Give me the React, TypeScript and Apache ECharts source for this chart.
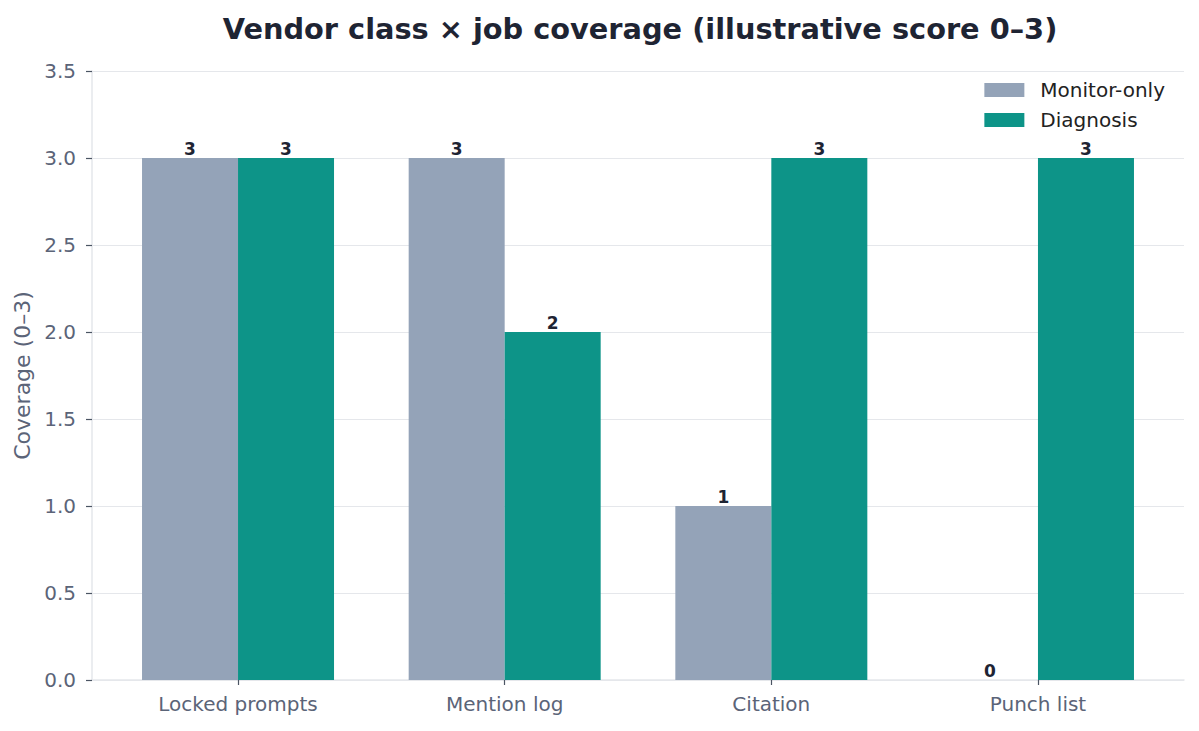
import { useEffect, useRef } from "react";
import * as echarts from "echarts";

const categories = ["Locked prompts", "Mention log", "Citation", "Punch list"];
const monitorOnly = [3, 3, 1, 0];
const diagnosis = [3, 2, 3, 3];
const yTicks = [0, 0.5, 1, 1.5, 2, 2.5, 3, 3.5];

const FONT = "DejaVu Sans";
const MUTED = "#5b6478";
const DARK = "#1e2433";
const GRID = "#e5e7eb";

const App = () => {
  const chartRef = useRef<HTMLDivElement>(null);

  useEffect(() => {
    if (!chartRef.current) return;
    const chart = echarts.init(chartRef.current, undefined, { renderer: "svg" });
    const yMax = yTicks[yTicks.length - 1];

    const barLabel = {
      show: true,
      position: "top",
      distance: 1,
      fontFamily: FONT,
      fontSize: 17,
      fontWeight: "bold",
      color: DARK,
    };

    chart.setOption({
      animation: false,
      textStyle: { fontFamily: FONT },
      title: {
        text: "Vendor class × job coverage (illustrative score 0–3)",
        left: 635,
        textAlign: "center",
        top: 9,
        textStyle: { fontFamily: FONT, fontSize: 28.8, fontWeight: "bold", color: DARK },
      },
      legend: {
        orient: "vertical",
        right: 29,
        top: 75,
        itemWidth: 40,
        itemHeight: 14,
        itemGap: 10,
        icon: "rect",
        textStyle: { fontFamily: FONT, fontSize: 20, color: "#222222", padding: [0, 0, 0, 11] },
        data: ["Monitor-only", "Diagnosis"],
      },
      grid: [
        // bars: one category = 266.7px, centred like the reference
        { left: 104.7, right: 27.7, top: 71, bottom: 51 },
        // frame: gridlines, y ticks and spines span the full plot area
        { left: 92, right: 15, top: 71, bottom: 51 },
      ],
      xAxis: [
        {
          type: "category",
          gridIndex: 0,
          data: categories,
          axisLine: { show: false },
          axisTick: { show: true, alignWithLabel: true, length: 5, lineStyle: { color: "#4b5563", width: 1.2 } },
          axisLabel: { fontFamily: FONT, fontSize: 20, color: MUTED, margin: 14 },
        },
        {
          type: "value",
          gridIndex: 1,
          min: 0,
          max: 1,
          axisLine: { show: true, onZero: false, lineStyle: { color: GRID, width: 1.5 } },
          axisTick: { show: false },
          axisLabel: { show: false },
          splitLine: { show: false },
        },
      ],
      yAxis: [
        {
          type: "value",
          gridIndex: 0,
          min: 0,
          max: yMax,
          show: false,
        },
        {
          type: "value",
          gridIndex: 1,
          min: 0,
          max: yMax,
          interval: 0.5,
          name: "Coverage (0–3)",
          nameLocation: "middle",
          nameGap: 57,
          nameTextStyle: { fontFamily: FONT, fontSize: 22, color: MUTED },
          axisLine: { show: true, lineStyle: { color: GRID, width: 1.5 } },
          axisTick: { show: true, length: 6, lineStyle: { color: "#4b5563", width: 1.2 } },
          axisLabel: {
            fontFamily: FONT,
            fontSize: 20,
            color: MUTED,
            margin: 16,
            formatter: (v: number) => v.toFixed(1),
          },
          splitLine: { show: true, lineStyle: { color: GRID, width: 1.2 } },
        },
      ],
      series: [
        {
          name: "Monitor-only",
          type: "bar",
          xAxisIndex: 0,
          yAxisIndex: 0,
          data: monitorOnly,
          barWidth: 96,
          barGap: "0%",
          itemStyle: { color: "#94a3b8" },
          label: barLabel,
        },
        {
          name: "Diagnosis",
          type: "bar",
          xAxisIndex: 0,
          yAxisIndex: 0,
          data: diagnosis,
          barWidth: 96,
          barGap: "0%",
          itemStyle: { color: "#0d9488" },
          label: barLabel,
        },
      ],
    });

    return () => {
      chart.dispose();
    };
  }, []);

  return (
    <div
      ref={chartRef}
      style={{ position: "fixed", left: 0, top: 0, width: 1199, height: 731, background: "#ffffff" }}
    ></div>
  );
};

export default App;
